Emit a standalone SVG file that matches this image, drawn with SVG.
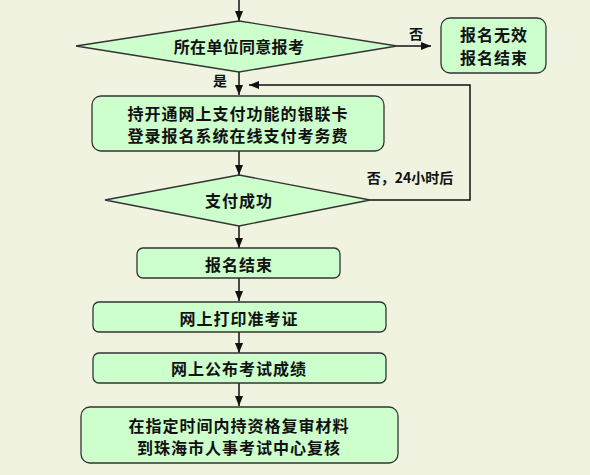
<svg xmlns="http://www.w3.org/2000/svg" width="590" height="475" viewBox="0 0 590 475">
<defs>
<marker id="ah" markerWidth="10" markerHeight="8" refX="10" refY="4" orient="auto" markerUnits="userSpaceOnUse">
<path d="M0,0 L10,4 L0,8 Z" fill="#111"/>
</marker>
<style>
.n{fill:#CCFFCC;stroke:#333;stroke-width:1.3}
.t{font-family:"Noto Sans CJK SC","Liberation Sans",sans-serif;font-weight:bold;font-size:16px;letter-spacing:1px;fill:#111;text-anchor:middle;dominant-baseline:central}
.s{font-size:14px;letter-spacing:0}
.c{fill:none;stroke:#111;stroke-width:1.5}
</style>
</defs>
<rect width="590" height="475" fill="#EFF3E0"/>
<g id="connectors">
<line class="c" x1="239" y1="0" x2="239" y2="21" marker-end="url(#ah)"/>
<line class="c" x1="397" y1="46" x2="431" y2="46" marker-end="url(#ah)"/>
<line class="c" x1="239" y1="72" x2="239" y2="95" marker-end="url(#ah)"/>
<line class="c" x1="239" y1="151" x2="239" y2="175" marker-end="url(#ah)"/>
<polyline class="c" points="370,200 470,200 470,85 249,85" marker-end="url(#ah)"/>
<line class="c" x1="239" y1="226" x2="239" y2="248" marker-end="url(#ah)"/>
<line class="c" x1="239" y1="278" x2="239" y2="301" marker-end="url(#ah)"/>
<line class="c" x1="239" y1="332" x2="239" y2="353" marker-end="url(#ah)"/>
<line class="c" x1="239" y1="383" x2="239" y2="406" marker-end="url(#ah)"/>
<text class="t s" x="416" y="33">否</text>
<text class="t s" x="220" y="80">是</text>
<text class="t s" x="410" y="177">否，24小时后</text>
</g>
<g id="d1">
<polygon class="n" points="239,21 397,46 239,72 76,46"/>
<text class="t" x="239" y="46" style="letter-spacing:0.3px">所在单位同意报考</text>
</g>
<g id="b0">
<rect class="n" x="441" y="18" width="105" height="55" rx="9"/>
<text class="t" x="494" y="34">报名无效</text>
<text class="t" x="494" y="57">报名结束</text>
</g>
<g id="b1">
<rect class="n" x="92" y="96" width="292" height="55" rx="9"/>
<text class="t" x="238" y="113">持开通网上支付功能的银联卡</text>
<text class="t" x="238" y="135">登录报名系统在线支付考务费</text>
</g>
<g id="d2">
<polygon class="n" points="239,175 370,200 239,226 105,200"/>
<text class="t" x="239" y="200">支付成功</text>
</g>
<g id="b2">
<rect class="n" x="137" y="248" width="203" height="30" rx="6"/>
<text class="t" x="239" y="264">报名结束</text>
</g>
<g id="b3">
<rect class="n" x="93" y="302" width="293" height="30" rx="6"/>
<text class="t" x="239" y="318">网上打印准考证</text>
</g>
<g id="b4">
<rect class="n" x="93" y="353" width="293" height="30" rx="6"/>
<text class="t" x="239" y="368">网上公布考试成绩</text>
</g>
<g id="b5">
<rect class="n" x="81" y="407" width="317" height="56" rx="9"/>
<text class="t" x="239" y="425">在指定时间内持资格复审材料</text>
<text class="t" x="239" y="447">到珠海市人事考试中心复核</text>
</g>
</svg>
